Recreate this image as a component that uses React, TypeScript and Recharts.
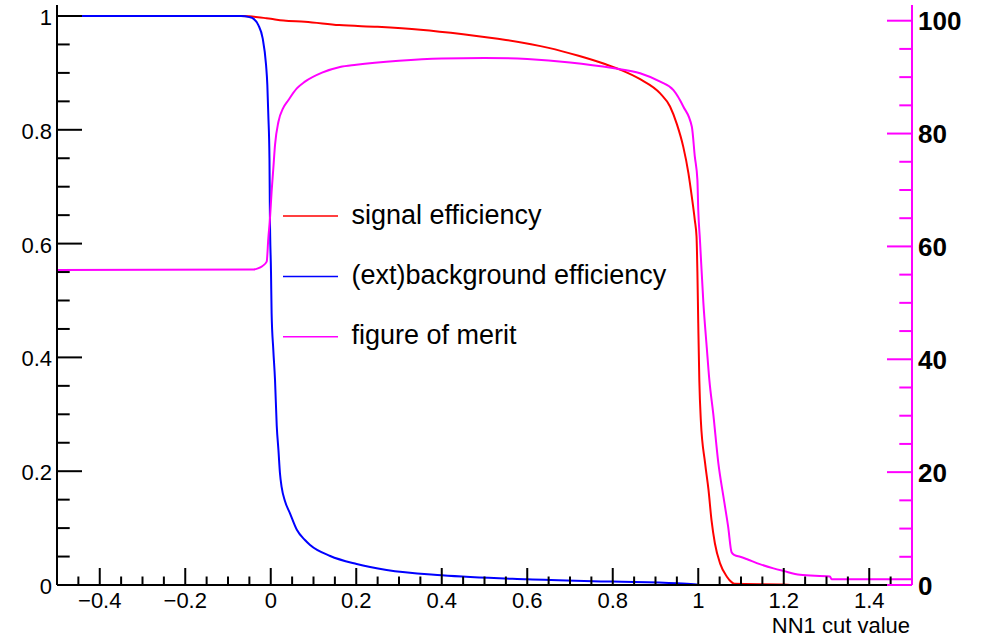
import React from "react";
import { LineChart, Line, XAxis, YAxis, Legend } from "recharts";

// ---- signal efficiency vs. NN1 cut value (left axis) ----
const sigX = [
  -0.5, -0.07, -0.05, -0.03, -0.01, 0.0, 0.03, 0.08, 0.16, 0.25, 0.35, 0.45, 0.55,
  0.65, 0.72, 0.78, 0.82, 0.864, 0.911, 0.934, 0.95, 0.965, 0.977, 0.985, 0.992,
  0.996, 0.998, 1.0, 1.0025, 1.006, 1.016, 1.024, 1.031, 1.039, 1.051, 1.067, 1.078,
  1.085, 1.2, 1.22, 1.5,
];
const sigEff = [
  1.0, 1.0, 0.9995, 0.998, 0.996, 0.995, 0.992, 0.99, 0.984, 0.981, 0.976, 0.968, 0.958,
  0.944, 0.93, 0.916, 0.905, 0.889, 0.864, 0.841, 0.81, 0.77, 0.724, 0.682, 0.641,
  0.612, 0.55, 0.46, 0.36, 0.29, 0.214, 0.167, 0.114, 0.073, 0.038, 0.0146, 0.005,
  0.002, 0.001, 0, 0,
];

// ---- (ext)background efficiency vs. NN1 cut value (left axis) ----
const bkgX = [
  -0.5, -0.07, -0.05, -0.04, -0.029, -0.019, -0.011, -0.008, -0.0057, -0.003, -0.002,
  0.0006, 0.002, 0.006, 0.01, 0.014, 0.018, 0.0216, 0.0255, 0.033, 0.045, 0.061, 0.08,
  0.092, 0.139, 0.201, 0.271, 0.4, 0.6, 0.8, 0.95, 0.996, 1.0, 1.44,
];
const bkgEff = [
  1.0, 1.0, 0.998, 0.995, 0.984, 0.961, 0.914, 0.879, 0.826, 0.75, 0.65,
  0.55, 0.478, 0.413, 0.36, 0.28, 0.237, 0.196, 0.172, 0.148, 0.126, 0.097, 0.079,
  0.0703, 0.051, 0.0369, 0.0264, 0.017, 0.01, 0.006, 0.003, 0.001, 0, 0,
];

// ---- figure of merit vs. NN1 cut value (right axis) ----
const fomX = [
  -0.5, -0.04, -0.03, -0.02, -0.0095, -0.0057, -0.0018, 0.002, 0.006, 0.01, 0.018,
  0.029, 0.041, 0.061, 0.08, 0.12, 0.162, 0.2, 0.3, 0.4, 0.5, 0.6, 0.7, 0.8, 0.864,
  0.911, 0.942, 0.965, 0.985, 0.992, 0.998, 1.0, 1.004, 1.012, 1.02, 1.026, 1.035,
  1.047, 1.059, 1.07, 1.078, 1.085, 1.098, 1.113, 1.144, 1.176, 1.199, 1.238, 1.308,
  1.312, 1.5,
];
const fomVal = [
  55.8, 55.9, 56.1, 56.5, 57.3, 61.4, 65.0, 69.7, 73.8, 78.0, 82.1,
  84.5, 85.9, 88.0, 89.2, 90.8, 91.8, 92.2, 92.9, 93.3, 93.4, 93.2, 92.6, 91.6, 90.7,
  89.2, 87.7, 84.8, 81.2, 75.9, 71.8, 66.5, 61.1, 50.0, 42.0, 36.3, 30.4,
  21.6, 15.6, 10.3, 5.8, 5.3, 5.0, 4.6, 3.7, 2.95, 2.5, 1.8, 1.5,
  1.0, 1.0,
];

// ---- axis ticks and labels ----
const xMajorTicks = [-0.4, -0.2, 0, 0.2, 0.4, 0.6, 0.8, 1, 1.2, 1.4];
const xMajorLabels = ["\u22120.4", "\u22120.2", "0", "0.2", "0.4", "0.6", "0.8", "1", "1.2", "1.4"];
const leftMajorTicks = [0, 0.2, 0.4, 0.6, 0.8, 1];
const leftMajorLabels = ["0", "0.2", "0.4", "0.6", "0.8", "1"];
const rightMajorTicks = [0, 20, 40, 60, 80, 100];
const rightMajorLabels = ["0", "20", "40", "60", "80", "100"];
const xTitle = "NN1 cut value";

const legendNames = ["signal efficiency", "(ext)background efficiency", "figure of merit"];

const RED = "#ff0000";
const BLUE = "#0000ff";
const MAGENTA = "#ff00ff";
const FONT = "'Liberation Sans', Arial, Helvetica, sans-serif";

// frame geometry
const W = 986;
const H = 642;
const LEFT = 57;
const RIGHT = 912;
const TOP = 5;
const BOTTOM = 585;

const round = (v: number) => Math.round(v * 1000) / 1000;
const stepTicks = (from: number, to: number, step: number) => {
  const out: number[] = [];
  const n = Math.round((to - from) / step);
  for (let i = 0; i <= n; i++) out.push(round(from + i * step));
  return out;
};
const xTicks = stepTicks(-0.45, 1.45, 0.05);
const leftTicks = stepTicks(0, 1, 0.05);
const rightTicks = stepTicks(0, 100, 5);

const isMajor = (list: number[], v: number) => list.findIndex((m) => Math.abs(m - v) < 1e-6);

const toSeries = (xs: number[], ys: number[]) => xs.map((x, i) => ({ x, v: ys[i] }));
const sigData = toSeries(sigX, sigEff);
const bkgData = toSeries(bkgX, bkgEff);
const fomData = toSeries(fomX, fomVal);

const XTick = (props: any) => {
  const { x, payload } = props;
  const idx = isMajor(xMajorTicks, payload.value);
  const len = idx >= 0 ? 17 : 8.5;
  return (
    <g>
      <line x1={x} x2={x} y1={BOTTOM} y2={BOTTOM - len} stroke="#000" strokeWidth={2} />
      {idx >= 0 && (
        <text x={x} y={608} textAnchor="middle" fontFamily={FONT} fontSize={22} fill="#000">
          {xMajorLabels[idx]}
        </text>
      )}
    </g>
  );
};

const LeftTick = (props: any) => {
  const { y, payload } = props;
  const idx = isMajor(leftMajorTicks, payload.value);
  const len = idx >= 0 ? 25 : 12.7;
  return (
    <g>
      <line x1={LEFT} x2={LEFT + len} y1={y} y2={y} stroke="#000" strokeWidth={2} />
      {idx >= 0 && (
        <text x={52} y={y + 9} textAnchor="end" fontFamily={FONT} fontSize={22} fill="#000">
          {leftMajorLabels[idx]}
        </text>
      )}
    </g>
  );
};

const RightTick = (props: any) => {
  const { y, payload } = props;
  const idx = isMajor(rightMajorTicks, payload.value);
  const len = idx >= 0 ? 25 : 12.7;
  return (
    <g>
      <line x1={RIGHT} x2={RIGHT - len} y1={y} y2={y} stroke={MAGENTA} strokeWidth={2} />
      {idx >= 0 && (
        <text x={918} y={y + 9.5} textAnchor="start" fontFamily={FONT} fontSize={26} fontWeight="bold" fill="#000">
          {rightMajorLabels[idx]}
        </text>
      )}
    </g>
  );
};

const XTitle = () => (
  <text x={910} y={633} textAnchor="end" fontFamily={FONT} fontSize={22} fill="#000">
    {xTitle}
  </text>
);

const legendColors = [RED, BLUE, MAGENTA];

const LegendBox = () => (
  <svg width={420} height={160} style={{ display: "block" }}>
    {legendNames.map((name, i) => {
      const cy = 20 + i * 60.4;
      return (
        <g key={name}>
          <line x1={0} x2={55} y1={cy} y2={cy} stroke={legendColors[i]} strokeWidth={1.5} />
          <text x={68.5} y={cy + 7.5} fontFamily={FONT} fontSize={27} fill="#000">
            {name}
          </text>
        </g>
      );
    })}
  </svg>
);

export default function App() {
  return (
    <div style={{ position: "absolute", left: 0, top: 0, width: W, height: H, background: "#fff" }}>
      <LineChart width={W} height={H} margin={{ top: TOP, right: 0, bottom: 0, left: 0 }}>
        <XAxis
          dataKey="x"
          type="number"
          domain={[-0.5, 1.5]}
          ticks={xTicks}
          interval={0}
          height={H - BOTTOM}
          tickLine={false}
          axisLine={{ stroke: "#000", strokeWidth: 2 }}
          tick={<XTick />}
          label={{ content: <XTitle /> }}
          allowDataOverflow
        />
        <XAxis
          xAxisId="frameTop"
          dataKey="x"
          type="number"
          orientation="top"
          domain={[-0.5, 1.5]}
          height={0}
          tick={false}
          tickLine={false}
          axisLine={{ stroke: "#000", strokeWidth: 2 }}
        />
        <YAxis
          yAxisId="left"
          type="number"
          domain={[0, (BOTTOM - TOP) / 569]}
          ticks={leftTicks}
          interval={0}
          width={LEFT}
          tickLine={false}
          axisLine={{ stroke: "#000", strokeWidth: 2 }}
          tick={<LeftTick />}
          allowDataOverflow
        />
        <YAxis
          yAxisId="right"
          orientation="right"
          type="number"
          domain={[0, (BOTTOM - TOP) / 5.643]}
          ticks={rightTicks}
          interval={0}
          width={W - RIGHT}
          tickLine={false}
          axisLine={{ stroke: MAGENTA, strokeWidth: 2 }}
          tick={<RightTick />}
          allowDataOverflow
        />
        <Legend
          layout="horizontal"
          verticalAlign="middle"
          align="center"
          content={<LegendBox />}
          wrapperStyle={{ left: 283, top: 196, width: 420, height: 160 }}
        />
        <Line
          yAxisId="left"
          data={sigData}
          dataKey="v"
          name={legendNames[0]}
          type="monotone"
          stroke={RED}
          strokeWidth={2}
          dot={false}
          isAnimationActive={false}
        />
        <Line
          yAxisId="left"
          data={bkgData}
          dataKey="v"
          name={legendNames[1]}
          type="monotone"
          stroke={BLUE}
          strokeWidth={2}
          dot={false}
          isAnimationActive={false}
        />
        <Line
          yAxisId="right"
          data={fomData}
          dataKey="v"
          name={legendNames[2]}
          type="monotone"
          stroke={MAGENTA}
          strokeWidth={2}
          dot={false}
          isAnimationActive={false}
        />
      </LineChart>
    </div>
  );
}
